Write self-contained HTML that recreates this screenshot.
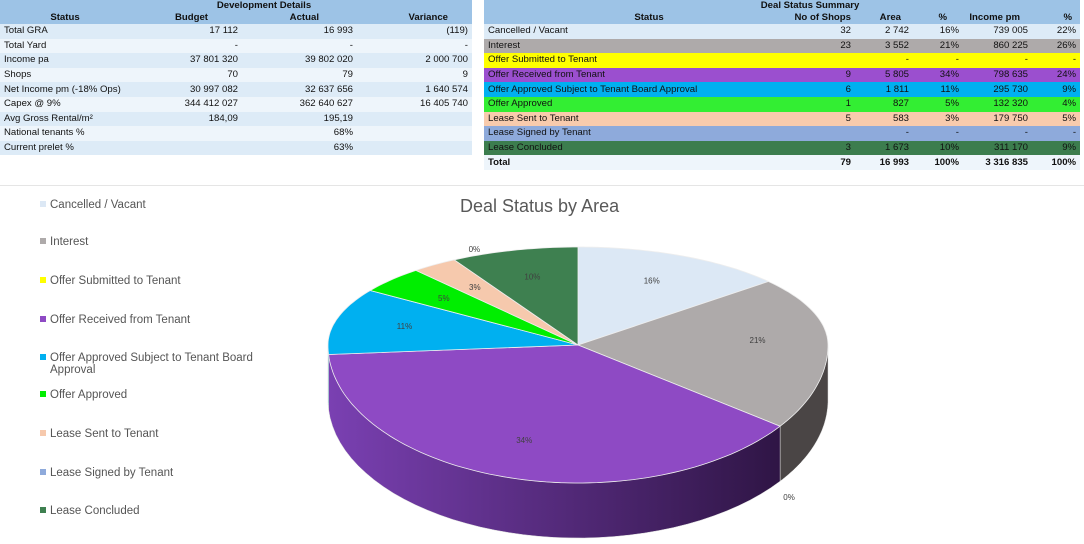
<!DOCTYPE html>
<html><head><meta charset="utf-8">
<style>
body{margin:0;width:1084px;height:543px;background:#fff;font-family:"Liberation Sans",sans-serif;position:relative;overflow:hidden}
table{border-collapse:collapse;position:absolute;font-size:9.6px;color:#111;table-layout:fixed}
td,th{padding:0 4px;height:14.6px;white-space:nowrap;line-height:14px;overflow:hidden}
th{font-weight:bold;background:#9dc3e6;height:12px;line-height:12px}
.r{text-align:right}
#dev tr.d:nth-child(odd) td{background:#ddebf7}
#dev tr.d:nth-child(even) td{background:#eef5fb}
.legend{position:absolute;left:40px;font-size:11.5px;color:#555}
.legend div{position:absolute;white-space:nowrap}
.legend span{display:inline-block;width:6px;height:6px;margin-right:4px;vertical-align:1px}
</style></head><body>
<table id="dev" style="left:0;top:0;width:472px">
<colgroup><col style="width:130px"><col style="width:112px"><col style="width:115px"><col style="width:115px"></colgroup>
<tr><th colspan="4" style="text-align:center;padding-left:60px">Development Details</th></tr>
<tr><th style="text-align:center">Status</th><th style="text-align:right;padding-right:34px">Budget</th><th style="text-align:right;padding-right:38px">Actual</th><th style="text-align:right;padding-right:24px">Variance</th></tr>
<tr class="d"><td>Total GRA</td><td class="r">17 112</td><td class="r">16 993</td><td class="r">(119)</td></tr>
<tr class="d"><td>Total Yard</td><td class="r">-</td><td class="r">-</td><td class="r">-</td></tr>
<tr class="d"><td>Income pa</td><td class="r">37 801 320</td><td class="r">39 802 020</td><td class="r">2 000 700</td></tr>
<tr class="d"><td>Shops</td><td class="r">70</td><td class="r">79</td><td class="r">9</td></tr>
<tr class="d"><td>Net Income pm (-18% Ops)</td><td class="r">30 997 082</td><td class="r">32 637 656</td><td class="r">1 640 574</td></tr>
<tr class="d"><td>Capex @ 9%</td><td class="r">344 412 027</td><td class="r">362 640 627</td><td class="r">16 405 740</td></tr>
<tr class="d"><td>Avg Gross Rental/m²</td><td class="r">184,09</td><td class="r">195,19</td><td></td></tr>
<tr class="d"><td>National tenants %</td><td></td><td class="r">68%</td><td></td></tr>
<tr class="d"><td>Current prelet %</td><td></td><td class="r">63%</td><td></td></tr>
</table>

<table id="deal" style="left:484px;top:0;width:596px">
<colgroup><col style="width:294px"><col style="width:77px"><col style="width:58px"><col style="width:50px"><col style="width:69px"><col style="width:48px"></colgroup>
<tr><th colspan="6" style="text-align:center;padding-left:60px">Deal Status Summary</th></tr>
<tr><th style="text-align:center;padding-left:40px">Status</th><th class="r">No of Shops</th><th class="r" style="padding-right:12px">Area</th><th class="r" style="padding-right:16px">%</th><th class="r" style="padding-right:12px">Income pm</th><th class="r" style="padding-right:8px">%</th></tr>
<tr style="background:#ddebf7"><td>Cancelled / Vacant</td><td class="r">32</td><td class="r">2 742</td><td class="r">16%</td><td class="r">739 005</td><td class="r">22%</td></tr>
<tr style="background:#aeaaaa"><td>Interest</td><td class="r">23</td><td class="r">3 552</td><td class="r">21%</td><td class="r">860 225</td><td class="r">26%</td></tr>
<tr style="background:#ffff00"><td>Offer Submitted to Tenant</td><td></td><td class="r">-</td><td class="r">-</td><td class="r">-</td><td class="r">-</td></tr>
<tr style="background:#9b4fcf"><td>Offer Received from Tenant</td><td class="r">9</td><td class="r">5 805</td><td class="r">34%</td><td class="r">798 635</td><td class="r">24%</td></tr>
<tr style="background:#00b0f0"><td>Offer Approved Subject to Tenant Board Approval</td><td class="r">6</td><td class="r">1 811</td><td class="r">11%</td><td class="r">295 730</td><td class="r">9%</td></tr>
<tr style="background:#33ee33"><td>Offer Approved</td><td class="r">1</td><td class="r">827</td><td class="r">5%</td><td class="r">132 320</td><td class="r">4%</td></tr>
<tr style="background:#f8cbad"><td>Lease Sent to Tenant</td><td class="r">5</td><td class="r">583</td><td class="r">3%</td><td class="r">179 750</td><td class="r">5%</td></tr>
<tr style="background:#8eaadb"><td>Lease Signed by Tenant</td><td></td><td class="r">-</td><td class="r">-</td><td class="r">-</td><td class="r">-</td></tr>
<tr style="background:#3c7d4e"><td>Lease Concluded</td><td class="r">3</td><td class="r">1 673</td><td class="r">10%</td><td class="r">311 170</td><td class="r">9%</td></tr>
<tr style="background:#eef5fb;font-weight:bold"><td>Total</td><td class="r">79</td><td class="r">16 993</td><td class="r">100%</td><td class="r">3 316 835</td><td class="r">100%</td></tr>
</table>

<div style="position:absolute;left:0;top:185px;width:1084px;height:358px;border-top:1px solid #e5e5e5"></div>
<div style="position:absolute;left:460px;top:196px;font-size:18px;color:#595959">Deal Status by Area</div>
<div class="legend" id="legend"></div>
<svg id="pie" width="1084" height="543" style="position:absolute;left:0;top:0"></svg>

<script>
const categories=["Cancelled / Vacant","Interest","Offer Submitted to Tenant","Offer Received from Tenant","Offer Approved Subject to Tenant Board Approval","Offer Approved","Lease Sent to Tenant","Lease Signed by Tenant","Lease Concluded"];
const areas=[2742,3552,0,5805,1811,827,583,0,1673];
const colors=["#dce8f5","#aeaaaa","#ffff00","#8e4ac4","#00b0f0","#00ee00","#f6c9ad","#8eaadb","#3e8050"];
const sideColors=["#b0bccc","#4a4545","#bbbb00","#5a2c85","#0080b0","#00a000","#c09a80","#6080b0","#2a5838"];

const legY=[206,243,282,321,359,396,435,474,512];
const leg=document.getElementById('legend');
categories.forEach((c,i)=>{
  const d=document.createElement('div');
  
  
  d.style.top=(legY[i]-7)+'px';
  d.innerHTML='<span style="background:'+colors[i]+'"></span>'+(i===4?'Offer Approved Subject to Tenant Board<br><span style="width:0;margin:0 10px 0 0"></span>Approval':c);
  leg.appendChild(d);
});

const NS="http://www.w3.org/2000/svg";
const svg=document.getElementById('pie');
const ax=578,ay=345,rx=250,ryTop=98,ryBot=138,depth=55;
const total=areas.reduce((a,b)=>a+b,0);
function warp(a){return a-10*Math.PI/180*Math.sin(a);}
function pt(a,dy){const t=warp(a);const c=Math.cos(t);return [ax+rx*Math.sin(t),ay-(c>0?ryTop:ryBot)*c+(dy||0)];}
function rawpt(t,dy){const c=Math.cos(t);return [ax+rx*Math.sin(t),ay-(c>0?ryTop:ryBot)*c+(dy||0)];}
function add(tag,attrs){const e=document.createElementNS(NS,tag);for(const k in attrs)e.setAttribute(k,attrs[k]);svg.appendChild(e);return e;}
const defs=add('defs',{});
defs.innerHTML='<linearGradient id="pg" x1="0" x2="1"><stop offset="0" stop-color="#7a40b2"/><stop offset="1" stop-color="#2f1545"/></linearGradient>';
let acc=0;const slices=[];
areas.forEach((v,i)=>{const a0=acc/total*2*Math.PI;acc+=v;const a1=acc/total*2*Math.PI;slices.push([a0,a1]);});
// sides
slices.forEach(([a0,a1],i)=>{
  const s=Math.max(warp(a0),Math.PI/2),e=Math.min(warp(a1),3*Math.PI/2);
  if(e<=s)return;
  let d='';const N=40;
  for(let k=0;k<=N;k++){const p=rawpt(s+(e-s)*k/N);d+=(k?'L':'M')+p[0].toFixed(1)+' '+p[1].toFixed(1);}
  for(let k=N;k>=0;k--){const p=rawpt(s+(e-s)*k/N,depth);d+='L'+p[0].toFixed(1)+' '+p[1].toFixed(1);}
  const p=add('path',{d:d+'Z',fill:i===3?'url(#pg)':sideColors[i],stroke:'#ddd','stroke-width':0.5});
  
  
});
// tops
slices.forEach(([a0,a1],i)=>{
  if(a1<=a0)return;
  let d='M'+ax+' '+ay;const N=Math.max(4,Math.ceil((a1-a0)*40));
  for(let k=0;k<=N;k++){const p=pt(a0+(a1-a0)*k/N);d+='L'+p[0].toFixed(1)+' '+p[1].toFixed(1);}
  const p=add('path',{d:d+'Z',fill:colors[i],stroke:'#eee','stroke-width':0.8});
  
  
});
// labels
slices.forEach(([a0,a1],i)=>{
  const pct=Math.round(areas[i]/total*100)+'%';
  const m=(a0+a1)/2;
  let x,y;const p=pt(m);
  if(areas[i]===0){
    if(Math.cos(warp(m))<0){x=p[0]+9;y=p[1]+74;}else{x=p[0]+20;y=p[1]-8;}
  }
  else{x=ax+(p[0]-ax)*0.72;y=ay+(p[1]-ay)*0.72+3;}
  const t=add('text',{x:x,y:y,'font-size':8,fill:'#404040','text-anchor':'middle','font-family':'Liberation Sans, sans-serif'});
  t.textContent=pct;
  
  
});
</script>
</body></html>
